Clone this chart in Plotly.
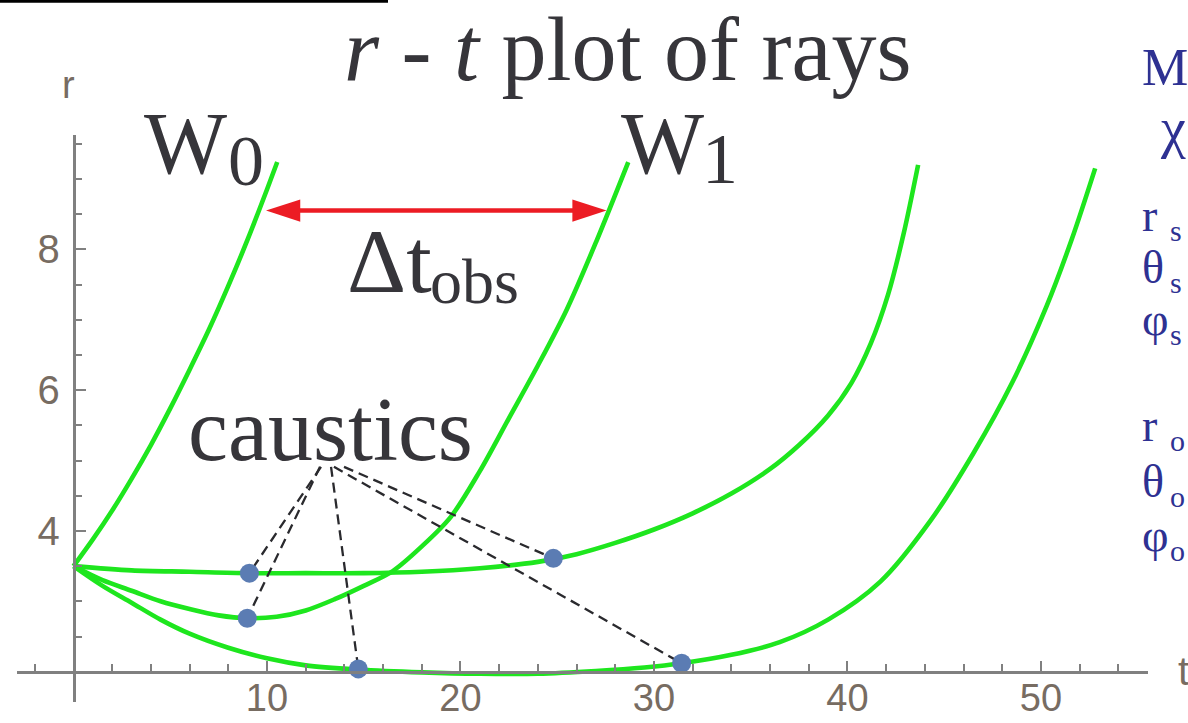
import plotly.graph_objects as go

FIG_W, FIG_H = 1188, 723

# ---- ray curves r(t) ----
ray_w0_t = [0, 1, 2, 3, 4, 5, 6, 7, 8, 9, 10, 10.53]
ray_w0_r = [3.50, 3.88, 4.29, 4.74, 5.22, 5.74, 6.29, 6.86, 7.48, 8.14, 8.85, 9.24]

ray_w1_t = [0, 1.5, 3, 4.5, 6, 7.5, 9, 10.5, 12, 13.5, 15, 16.5, 18, 19.5,
            21, 22.5, 24, 25.5, 27, 28.67]
ray_w1_r = [3.50, 3.30, 3.15, 3.00, 2.89, 2.80, 2.76, 2.78, 2.87, 3.03, 3.22,
            3.43, 3.78, 4.20, 4.85, 5.60, 6.35, 7.15, 8.10, 9.24]

ray_c_t = [0, 3, 6, 9, 12, 15, 18, 21, 24, 26, 28, 30, 32, 34, 36, 37.5, 39,
           40.2, 41.2, 42.1, 42.9, 43.65]
ray_c_r = [3.50, 3.44, 3.42, 3.40, 3.40, 3.40, 3.42, 3.47, 3.56, 3.67, 3.83,
           4.02, 4.25, 4.53, 4.88, 5.22, 5.64, 6.10, 6.66, 7.36, 8.22, 9.20]

ray_d_t = [0, 1.5, 3, 4.5, 6, 8, 10, 12, 14.72, 18, 21, 24, 27, 29.5, 31.43,
           34, 36.5, 39, 41.7, 44.3, 46.5, 48.5, 50.3, 51.6, 52.8]
ray_d_r = [3.50, 3.22, 2.98, 2.74, 2.54, 2.34, 2.19, 2.09, 2.03, 1.99, 1.97,
           1.97, 2.01, 2.06, 2.12, 2.24, 2.42, 2.74, 3.28, 4.15, 5.10, 6.10,
           7.20, 8.15, 9.15]

# ---- caustic points and where their leader lines start ----
caustic_t = [9.09, 8.98, 14.72, 24.8, 31.43]
caustic_r = [3.40, 2.76, 2.04, 3.61, 2.12]
leader_t = [12.79, 12.74, 13.31, 13.98, 13.46]
leader_r = [4.91, 4.91, 4.91, 4.91, 4.91]

# ---- observed time delay between W0 and W1 ----
delay_r = 8.55
delay_t0 = 9.95
delay_t1 = 27.55

# ---- axes ----
x_major = [10, 20, 30, 40, 50]
x_minor = [-2, 2, 4, 6, 8, 12, 14, 16, 18, 22, 24, 26, 28, 32, 34, 36, 38,
           42, 44, 46, 48, 52, 54]
y_major = [4, 6, 8]
y_minor = [2.5, 3, 3.5, 4.5, 5, 5.5, 6.5, 7, 7.5, 8.5, 9, 9.5]

GREEN = "#1ee61e"
DOT = "#5b7cb3"
RED = "#ec1c24"
INK = "#36353a"
BLUE = "#2e3192"
TICK = "#776c62"
AXIS = "#808080"


def paper_x(px):
    return px / FIG_W


def paper_y(py):
    return (FIG_H - py) / FIG_H


fig = go.Figure()

for ts, rs in [(ray_w0_t, ray_w0_r), (ray_w1_t, ray_w1_r),
               (ray_c_t, ray_c_r), (ray_d_t, ray_d_r)]:
    fig.add_trace(go.Scatter(x=ts, y=rs, mode="lines",
                             line=dict(color=GREEN, width=4.6, shape="spline", smoothing=0.9),
                             hoverinfo="skip"))

# leader lines from the "caustics" label to each caustic
lx, ly = [], []
for t0, r0, t1, r1 in zip(leader_t, leader_r, caustic_t, caustic_r):
    lx += [t0, t1, None]
    ly += [r0, r1, None]
fig.add_trace(go.Scatter(x=lx, y=ly, mode="lines",
                         line=dict(color="#2a2a2e", width=2.3, dash="10px,6px"),
                         hoverinfo="skip"))

fig.add_trace(go.Scatter(x=caustic_t, y=caustic_r, mode="markers",
                         marker=dict(color=DOT, size=19, line=dict(width=0)),
                         hoverinfo="skip"))

# double-headed delay arrow
fig.add_trace(go.Scatter(x=[delay_t0 + 1.0, delay_t1 - 1.0], y=[delay_r, delay_r],
                         mode="lines", line=dict(color=RED, width=4.5),
                         hoverinfo="skip"))
fig.add_trace(go.Scatter(x=[delay_t0, delay_t1], y=[delay_r, delay_r], mode="markers",
                         marker=dict(symbol="arrow", angle=[-90, 90], size=36,
                                     color=RED, line=dict(width=0)),
                         hoverinfo="skip"))

serif = "Liberation Serif"
annotations = []


def label(text, px, baseline, size, color=INK, anchor="left", family=serif):
    annotations.append(dict(
        text=text, x=paper_x(px), y=paper_y(baseline - 0.3375 * size),
        xref="paper", yref="paper", xanchor=anchor, yanchor="middle",
        showarrow=False, font=dict(family=family, size=size, color=color)))


label("<i>r</i> - <i>t</i> plot of rays", 627.5, 80, 90, anchor="center")
label("W", 142, 173, 88)
label("0", 226, 185, 72)
label("W", 619, 173, 88)
label("1", 700, 183, 72)
label("Δt", 345, 292, 92)
label("obs", 428, 303, 64)
label("caustics", 330.5, 460, 90, anchor="center")

# parameter list along the right edge: symbol, then its index set just after it
label("M", 1140, 85, 52, color=BLUE)
label("χ", 1158, 147, 56, color=BLUE)
for sym, sub, base in [("r", "s", 231), ("θ", "s", 283), ("φ", "s", 335),
                       ("r", "o", 441), ("θ", "o", 497), ("φ", "o", 551)]:
    label(sym, 1140, base, 46, color=BLUE)
    label(sub, 1168, base + 10, 30, color=BLUE)

sans = "Liberation Sans"
label("r", 68, 98, 38, color=TICK, anchor="center", family=sans)
label("t", 1176, 684, 40, color=TICK, family=sans)

fig.update_layout(
    width=FIG_W, height=FIG_H,
    margin=dict(l=0, r=0, t=0, b=0, autoexpand=False),
    paper_bgcolor="white", plot_bgcolor="white",
    showlegend=False,
    annotations=annotations,
    shapes=[dict(type="line", xref="paper", yref="paper",
                 x0=0, x1=paper_x(388), y0=paper_y(1.2), y1=paper_y(1.2),
                 line=dict(color="black", width=3))],
    xaxis=dict(domain=[paper_x(16.7), paper_x(1148)], range=[-2.935, 55.53],
               anchor="free", position=paper_y(671.7), automargin=False,
               showgrid=False, zeroline=False,
               showline=True, linecolor=AXIS, linewidth=2.5,
               ticks="inside", ticklen=10, tickwidth=2, tickcolor=AXIS,
               tickvals=x_major, ticktext=[str(v) for v in x_major],
               tickfont=dict(family=sans, size=38, color=TICK), ticklabelstandoff=-8,
               minor=dict(tickvals=x_minor, ticks="inside", ticklen=7,
                          tickwidth=2, tickcolor=AXIS, showgrid=False)),
    yaxis=dict(domain=[paper_y(701.7), paper_y(135)], range=[1.574, 9.624],
               anchor="free", position=paper_x(73.5), automargin=False,
               showgrid=False, zeroline=False,
               showline=True, linecolor=AXIS, linewidth=2.5,
               ticks="inside", ticklen=11, tickwidth=2, tickcolor=AXIS,
               tickvals=y_major, ticktext=[str(v) for v in y_major],
               tickfont=dict(family=sans, size=40, color=TICK), ticklabelstandoff=5,
               minor=dict(tickvals=y_minor, ticks="inside", ticklen=7,
                          tickwidth=2, tickcolor=AXIS, showgrid=False)),
)

fig.write_html("out.html")
